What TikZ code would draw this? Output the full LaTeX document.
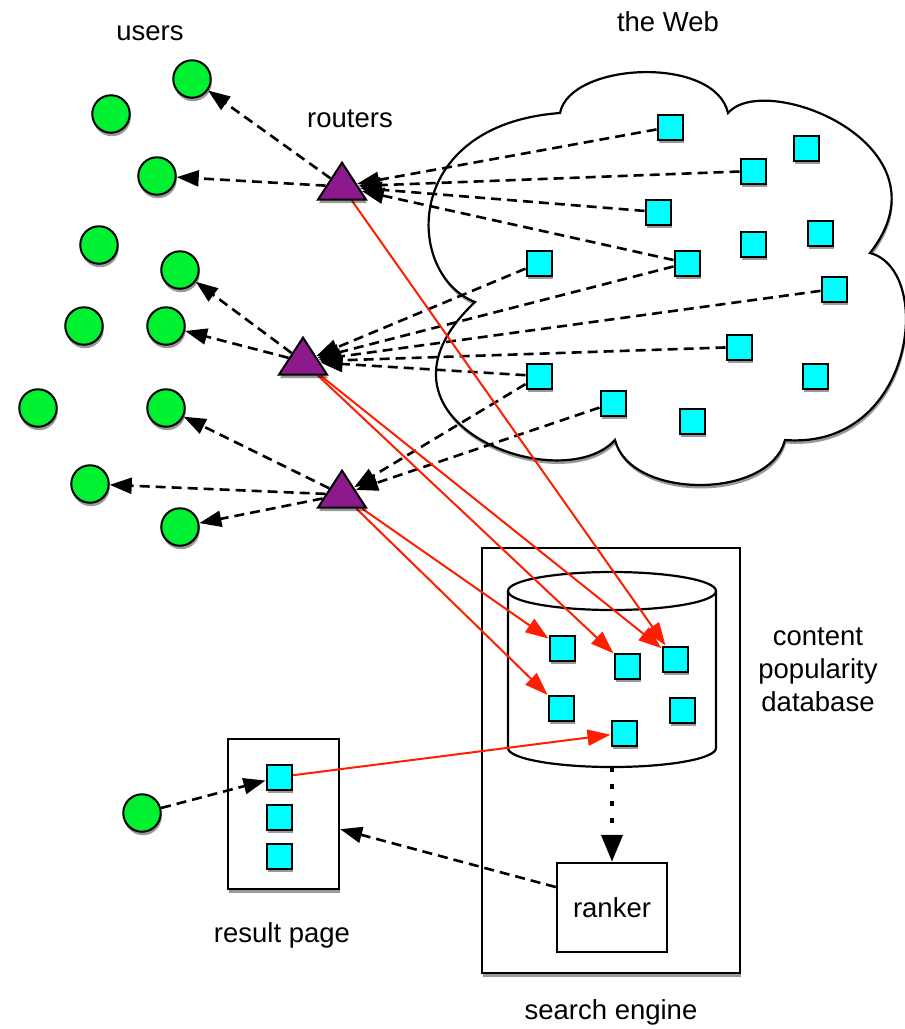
\documentclass[tikz,border=0pt]{standalone}
\usepackage{fontspec}
\setmainfont{Liberation Sans}
\usetikzlibrary{arrows.meta,shapes.geometric,shadows}
\definecolor{ugreen}{RGB}{0,240,50}
\definecolor{pcyan}{RGB}{0,255,255}
\definecolor{rpurple}{RGB}{140,26,140}
\definecolor{hitred}{RGB}{255,30,0}
\pgfdeclarelayer{back}
\pgfdeclarelayer{links}
\pgfsetlayers{back,links,main}
\begin{document}
\begin{tikzpicture}[x=1pt,y=-1pt,
  shdw/.style={drop shadow={shadow xshift=1pt,shadow yshift=-3.5pt,fill=black,opacity=0.4}},
  usr/.style={circle,draw,line width=2pt,fill=ugreen,minimum size=37.5pt,inner sep=0pt,shdw},
  pg/.style={rectangle,draw,line width=2pt,fill=pcyan,minimum size=25pt,inner sep=0pt,shdw},
  rtr/.style={isosceles triangle,isosceles triangle stretches,shape border rotate=90,draw,
    line width=2pt,fill=rpurple,minimum width=48pt,minimum height=37pt,inner sep=0pt,anchor=apex,shdw},
  box/.style={rectangle,draw,line width=2.4pt,fill=white,inner sep=0pt},
  lbl/.style={font=\fontsize{27.5}{33}\selectfont,align=center,inner sep=0pt},
  feed/.style={line width=2.6pt,dash pattern=on 10pt off 6pt,-{Triangle[length=22pt,width=16pt]}},
  hit/.style={draw=hitred,line width=2pt,-{Triangle[length=23pt,width=16pt]}},
  flow/.style={line width=4pt,dash pattern=on 5pt off 12pt,-{Triangle[length=27pt,width=21pt]}}
]
\useasboundingbox (0,0) rectangle (905,1029);

% ---- background shapes: the Web cloud, search engine, database, result page
\begin{pgfonlayer}{back}
  \draw[line width=2.2pt,fill=white,shdw]
    (560,113) .. controls (570,62) and (715,55) .. (728,113)
              .. controls (765,70) and (955,145) .. (870,253)
              .. controls (935,270) and (915,450) .. (785,440)
              .. controls (770,500) and (630,500) .. (615,440)
              .. controls (560,500) and (350,420) .. (475,302)
              .. controls (405,275) and (400,125) .. cycle;
  \node[box,shdw,minimum width=258pt,minimum height=425pt] (se) at (611,760.5) {};
  \draw[line width=2.2pt,fill=white]
    (508,591) -- (508,748) arc[start angle=180,end angle=360,x radius=104pt,y radius=19pt]
    -- (716,591);
  \draw[line width=2.2pt] (612,591) ellipse [x radius=104pt,y radius=19pt];
  \coordinate (dbb) at (612,767);
  \node[box,shdw,minimum width=111pt,minimum height=150pt] (rp) at (283.5,814) {};
\end{pgfonlayer}

% ---- labels
\node[lbl] (tusers) at (150,33) {users};
\node[lbl] (trouters) at (350,119) {routers};
\node[lbl] (tweb) at (668,22) {the Web};
\node[lbl] (tdb) at (818,670) {content\\popularity\\database};
\node[lbl] (trp) at (282,935) {result page};
\node[lbl] (tse) at (611,1012) {search engine};

% ---- ranker
\node[box,minimum width=110pt,minimum height=89pt,font=\fontsize{27.5}{33}\selectfont] (ranker) at (612,907.5) {ranker};

% ---- pages on the Web
\node[pg] (w1)  at (670,127) {};
\node[pg] (w2)  at (806,148) {};
\node[pg] (w3)  at (753,171) {};
\node[pg] (w4)  at (658,212) {};
\node[pg] (w5)  at (820,233) {};
\node[pg] (w6)  at (753,244) {};
\node[pg] (w7)  at (539,263) {};
\node[pg] (w8)  at (687,263) {};
\node[pg] (w9)  at (834,289) {};
\node[pg] (w10) at (739,347) {};
\node[pg] (w11) at (539,376) {};
\node[pg] (w12) at (815,376) {};
\node[pg] (w13) at (613,403) {};
\node[pg] (w14) at (692,421) {};

% ---- pages in the database
\node[pg] (d1) at (562,648) {};
\node[pg] (d2) at (627,666) {};
\node[pg] (d3) at (675,659) {};
\node[pg] (d4) at (561,708) {};
\node[pg] (d5) at (682,710) {};
\node[pg] (d6) at (624,733) {};

% ---- pages on the result page
\node[pg] (p1) at (279,777) {};
\node[pg] (p2) at (279,817) {};
\node[pg] (p3) at (279,856) {};

% ---- users
\node[usr] (u1)  at (192,79) {};
\node[usr] (u2)  at (111,114) {};
\node[usr] (u3)  at (157,176) {};
\node[usr] (u4)  at (99,245) {};
\node[usr] (u5)  at (180,270) {};
\node[usr] (u6)  at (84,326) {};
\node[usr] (u7)  at (166,326) {};
\node[usr] (u8)  at (38,408) {};
\node[usr] (u9)  at (166,408) {};
\node[usr] (u10) at (90,484) {};
\node[usr] (u11) at (180,527) {};
\node[usr] (u12) at (142,813) {};

% ---- routers
\node[rtr] (r1) at (342,160) {};
\node[rtr] (r2) at (303,335) {};
\node[rtr] (r3) at (342,468) {};

% ---- connectors
\begin{pgfonlayer}{links}
  % traffic from the Web to the routers
  \foreach \w in {w1,w3,w4,w8} \draw[feed] (\w) -- (r1);
  \foreach \w in {w7,w8,w9,w10,w11} \draw[feed] (\w) -- (r2);
  \foreach \w in {w11,w13} \draw[feed] (\w) -- (r3);
  % routers to users
  \draw[feed] (r1) -- (u1);
  \draw[feed] (r1) -- (u3);
  \draw[feed] (r2) -- (u5);
  \draw[feed] (r2) -- (u7);
  \draw[feed] (r3) -- (u9);
  \draw[feed] (r3) -- (u10);
  \draw[feed] (r3) -- (u11);
  % popularity reports
  \draw[hit] (r1) -- (d3);
  \draw[hit] (r2) -- (d2);
  \draw[hit] (r2) -- (d3);
  \draw[hit] (r3) -- (d1);
  \draw[hit] (r3) -- (d4);
  \draw[hit] (p1) -- (d6);
  % search engine internals and results
  \draw[flow] (dbb) -- (ranker);
  \draw[feed] (ranker.160) -- (rp);
  \draw[feed] (u12) -- (p1);
\end{pgfonlayer}
\end{tikzpicture}
\end{document}
